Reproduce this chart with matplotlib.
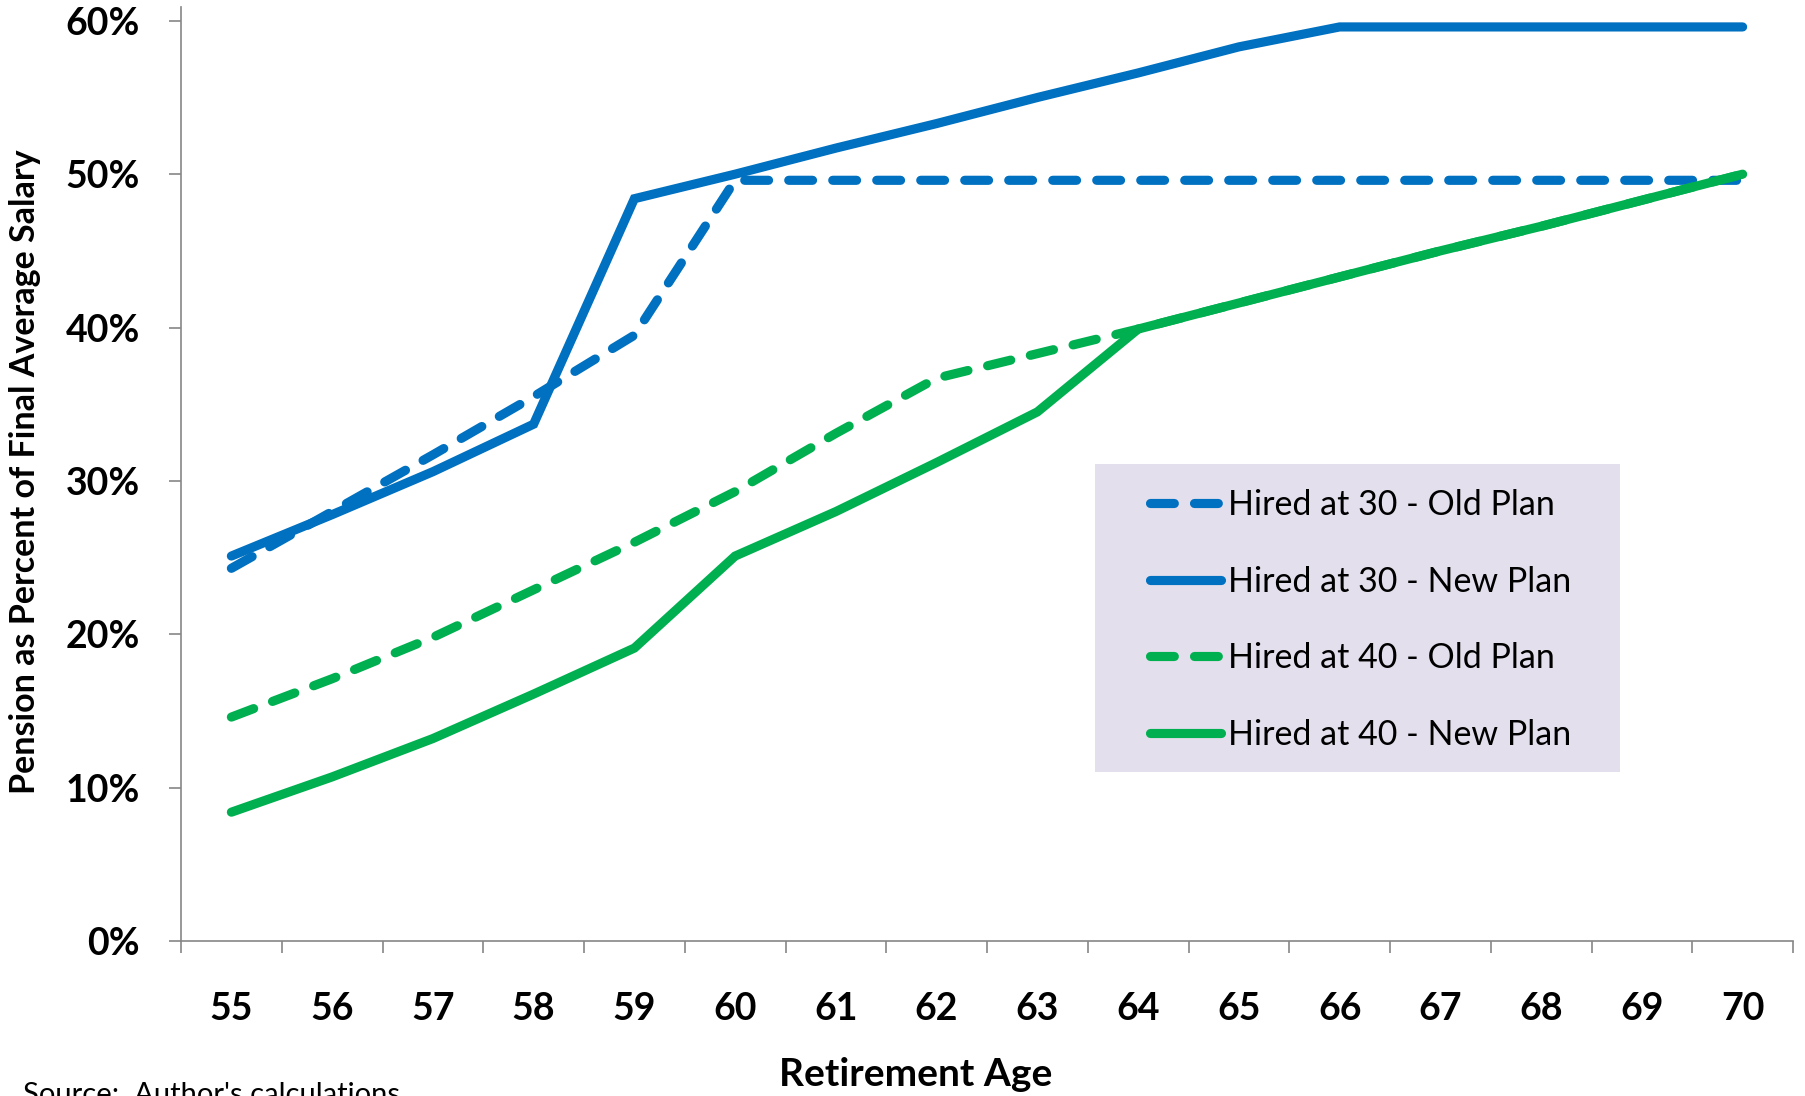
import matplotlib
matplotlib.use("Agg")
import matplotlib.pyplot as plt
from matplotlib.patches import Rectangle

# retirement ages and pension as share of final average salary
ages = [55, 56, 57, 58, 59, 60, 61, 62, 63, 64, 65, 66, 67, 68, 69, 70]
hired30_old = [0.243, 0.280, 0.317, 0.355, 0.395, 0.496, 0.496, 0.496,
               0.496, 0.496, 0.496, 0.496, 0.496, 0.496, 0.496, 0.496]
hired30_new = [0.251, 0.278, 0.306, 0.337, 0.484, 0.500, 0.517, 0.533,
               0.550, 0.566, 0.583, 0.596, 0.596, 0.596, 0.596, 0.596]
hired40_old = [0.146, 0.171, 0.198, 0.229, 0.260, 0.293, 0.331, 0.367,
               0.383, 0.399, 0.416, 0.433, 0.450, 0.466, 0.483, 0.500]
hired40_new = [0.084, 0.107, 0.132, 0.161, 0.191, 0.251, 0.280, 0.312,
               0.345, 0.399, 0.416, 0.433, 0.450, 0.466, 0.483, 0.500]
labels = ["Hired at 30 - Old Plan", "Hired at 30 - New Plan",
          "Hired at 40 - Old Plan", "Hired at 40 - New Plan"]
yticks = [0.0, 0.1, 0.2, 0.3, 0.4, 0.5, 0.6]
ytick_labels = ["0%", "10%", "20%", "30%", "40%", "50%", "60%"]

BLUE = "#0070C0"
GREEN = "#00B050"
AXIS_GREY = "#868686"
FONT = "Lato"

W, H = 1806, 1096
fig = plt.figure(figsize=(W / 100, H / 100), dpi=100)
ax = fig.add_axes([181 / W, 1 - 941 / H, (1793 - 181) / W, (941 - 7) / H])

lw = 6.6
series = [(hired30_old, BLUE, True), (hired30_new, BLUE, False),
          (hired40_old, GREEN, True), (hired40_new, GREEN, False)]
for (vals, col, dashed), lab in zip(series, labels):
    if dashed:
        ax.plot(ages, vals, color=col, lw=lw, dashes=(2.6, 2.2),
                dash_capstyle="round", label=lab)
    else:
        ax.plot(ages, vals, color=col, lw=lw, solid_capstyle="round",
                solid_joinstyle="miter", label=lab)

ax.set_xlim(ages[0] - 0.5, ages[-1] + 0.5)
ax.set_ylim(0, 0.609)

for s in ["top", "right"]:
    ax.spines[s].set_visible(False)
for s in ["left", "bottom"]:
    ax.spines[s].set_color(AXIS_GREY)
    ax.spines[s].set_linewidth(1.2)

ax.set_xticks(ages)
ax.set_xticklabels([str(a) for a in ages])
ax.set_xticks([a - 0.5 for a in ages] + [ages[-1] + 0.5], minor=True)
ax.tick_params(axis="x", which="major", length=0, pad=36.5)
ax.tick_params(axis="x", which="minor", length=8.6, width=1.2, color=AXIS_GREY)
ax.set_yticks(yticks)
ax.set_yticklabels(ytick_labels)
ax.tick_params(axis="y", length=8.6, width=1.2, color=AXIS_GREY, pad=21)
for t in ax.get_xticklabels() + ax.get_yticklabels():
    t.set_fontfamily(FONT)
    t.set_fontweight("bold")
    t.set_fontsize(27)

fig.text(25 / W, 1 - 472 / H, "Pension as Percent of Final Average Salary",
         rotation=90, ha="center", va="center", family=FONT,
         fontweight="bold", fontsize=24.5)
fig.text(916 / W, 1 - 1075 / H, "Retirement Age", ha="center", va="center",
         family=FONT, fontweight="bold", fontsize=28)
fig.text(23 / W, 1 - 1082 / H, "Source:  Author's calculations", ha="left",
         va="top", family=FONT, fontsize=21)

# shaded legend panel, sitting under the legend entries
ax.add_patch(Rectangle((1095 / W, 1 - 772 / H), (1620 - 1095) / W,
                       (772 - 464) / H, transform=fig.transFigure,
                       facecolor="#E4DFEC", edgecolor="none", zorder=4,
                       clip_on=False))
leg = ax.legend(loc="upper left", bbox_to_anchor=(1133 / W, 1 - 472 / H),
                bbox_transform=fig.transFigure, frameon=False, borderpad=0,
                handlelength=2.1, handletextpad=0.18, labelspacing=1.31,
                prop={"family": FONT, "size": 24.5})
leg.set_zorder(5)

fig.savefig("out.png", dpi=100)
